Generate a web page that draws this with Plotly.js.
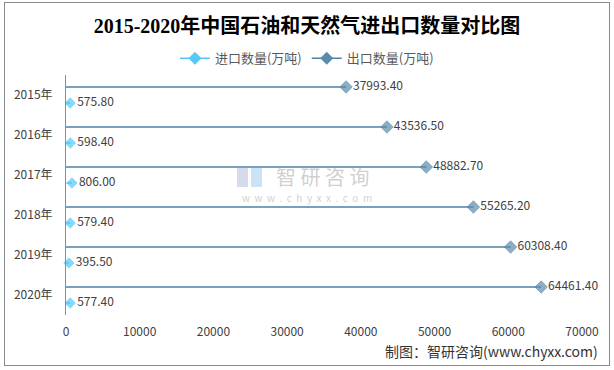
<!DOCTYPE html>
<html><head><meta charset="utf-8">
<script src="https://cdn.plot.ly/plotly-3.0.1.min.js"></script>
<style>
body{margin:0;padding:0;background:#fff;}
#wrap{position:relative;width:614px;height:370px;}
#chart{position:absolute;left:0;top:0;width:614px;height:370px;}
#border{position:absolute;left:4px;top:2px;width:604px;height:362px;border:1px solid #8a8a8a;pointer-events:none;}
</style></head>
<body>
<div id="wrap"><div id="chart"></div><div id="border"></div></div>
<script>
var years = ['2015年','2016年','2017年','2018年','2019年','2020年'];
var importVals = [575.80, 598.40, 806.00, 579.40, 395.50, 577.40];
var exportVals = [37993.40, 43536.50, 48882.70, 55265.20, 60308.40, 64461.40];
var importName = '进口数量(万吨)';
var exportName = '出口数量(万吨)';
var xTicks = [0,10000,20000,30000,40000,50000,60000,70000];

var importColor = '#55c9f6';
var exportColor = '#5a8ca9';
var exportLine = '#4f81a6';

function buildTrace(vals, offset, color, lineColor){
  var x=[], y=[], s=[], t=[];
  vals.forEach(function(v,i){
    x.push(0, v, null);
    y.push(i+offset, i+offset, null);
    s.push(0, 9.5, 0);
    t.push('', v.toFixed(2), '');
  });
  return {type:'scatter', mode:'lines+markers+text', x:x, y:y, text:t,
    textposition:'middle right', cliponaxis:false,
    textfont:{family:'Noto Sans CJK SC, Liberation Sans, sans-serif', size:12, color:'#404040'},
    line:{color:lineColor, width:1.5}, marker:{symbol:'diamond', size:s, color:color},
    showlegend:false, hoverinfo:'skip', connectgaps:false};
}
var traces = [
  buildTrace(exportVals, -0.2, exportColor, exportLine),
  buildTrace(importVals, 0.2, importColor, importColor),
  {type:'scatter', mode:'lines+markers', x:[null], y:[null], name:importName,
   line:{color:importColor, width:1.5}, marker:{symbol:'diamond', size:10, color:importColor}},
  {type:'scatter', mode:'lines+markers', x:[null], y:[null], name:exportName,
   line:{color:exportLine, width:1.5}, marker:{symbol:'diamond', size:10, color:exportColor}}
];

var layout = {
  width:614, height:370,
  margin:{l:66, r:32, t:75, b:55},
  paper_bgcolor:'#fff', plot_bgcolor:'#fff',
  font:{family:'Noto Sans CJK SC, Liberation Sans, sans-serif', size:12, color:'#404040'},
  title:{text:'<b>2015-2020年中国石油和天然气进出口数量对比图</b>',
    font:{family:'Liberation Serif, Noto Sans CJK SC, serif', size:20, color:'#000'},
    x:0.5, xanchor:'center', y:0.93, yanchor:'middle', xref:'container'},
  showlegend:true,
  legend:{orientation:'h', x:0.467, xanchor:'center', y:1.07, yanchor:'middle',
    font:{family:'Noto Sans CJK SC, sans-serif', size:13, color:'#595959'}, traceorder:'normal'},
  xaxis:{range:[0,70000], tickvals:xTicks, ticktext:xTicks.map(String), showgrid:false, zeroline:false,
    showline:false, ticks:'', ticklabelstandoff:8, fixedrange:true,
    tickfont:{size:12, color:'#404040'}},
  yaxis:{range:[5.5,-0.5], tickvals:years.map(function(_,i){return i;}), ticktext:years,
    showgrid:false, zeroline:false, showline:true, linecolor:'#8c8c8c', linewidth:1,
    ticks:'', ticklabelstandoff:10, tickfont:{size:12, color:'#404040'}},
  shapes:[
    {type:'rect', xref:'paper', yref:'paper', x0:(237-66)/516, x1:(248-66)/516, y0:(315-187)/240, y1:(315-168)/240,
     fillcolor:'rgba(170,185,215,0.5)', line:{width:0}},
    {type:'rect', xref:'paper', yref:'paper', x0:(251-66)/516, x1:(262-66)/516, y0:(315-187)/240, y1:(315-168)/240,
     fillcolor:'rgba(150,200,235,0.5)', line:{width:0}}
  ],
  annotations:[
    {xref:'paper', yref:'paper', x:1.035, y:-0.15, xanchor:'right', yanchor:'middle', showarrow:false,
     text:'制图：智研咨询(www.chyxx.com)', font:{size:14, color:'#333'}},
    {xref:'paper', yref:'paper', x:0.497, y:0.578, xanchor:'center', yanchor:'middle', showarrow:false,
     text:'智 研 咨 询', font:{size:20, color:'rgba(160,160,160,0.5)'}},
    {xref:'paper', yref:'paper', x:0.467, y:0.49, xanchor:'center', yanchor:'middle', showarrow:false,
     text:'w  w  w  .  c  h  y  x  x  .  c  o  m', font:{size:10, color:'rgba(160,160,160,0.5)'}}
  ]
};
Plotly.newPlot('chart', traces, layout, {displayModeBar:false, staticPlot:true});
</script>
</body></html>
